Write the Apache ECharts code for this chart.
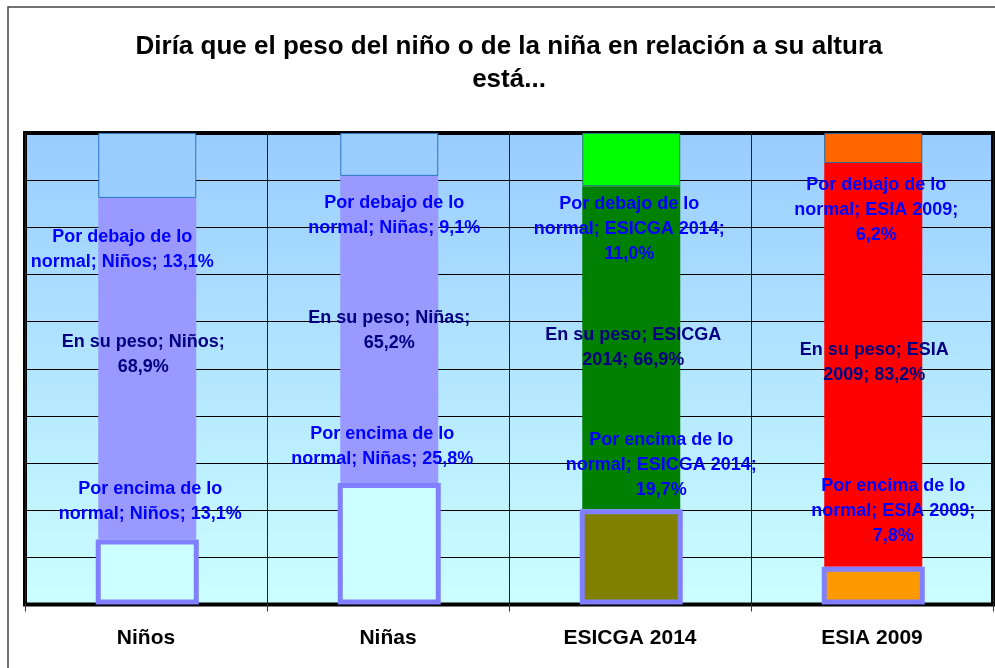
<!DOCTYPE html>
<html><head><meta charset="utf-8">
<script src="https://cdn.jsdelivr.net/npm/echarts@6/dist/echarts.min.js"></script>
<style>html,body{margin:0;padding:0;background:#fff}#c{width:995px;height:668px}</style>
</head><body><div id="c"></div>
<script>
// ---- data ----
const categories = ['Niños', 'Niñas', 'ESICGA 2014', 'ESIA 2009'];
const seriesNames = ['Por encima de lo normal', 'En su peso', 'Por debajo de lo normal'];
const encima = [13.1, 25.8, 19.7, 7.8];
const peso = [68.9, 65.2, 66.9, 83.2];
const debajo = [13.1, 9.1, 11.0, 6.2];
const titleText = 'Diría que el peso del niño o de la niña en relación a su altura\nestá...';

// ---- styles / layout ----
const fills = [
  ['#CCFFFF', '#CCFFFF', '#808000', '#FF9900'],
  ['#9999FF', '#9999FF', '#008000', '#FF0000'],
  ['#99CCFF', '#99CCFF', '#00FF00', '#FF6600']
];
const topBorders = ['#2E74C0', '#2E74C0', '#1E7F6A', '#2F5F8F'];
const labelOffsets = [
  [[3, -70], [-7, -97], [30, -92], [20, -75]],
  [[-4, -14], [0, 1], [2, 0], [1, -2]],
  [[-25, 84], [5, 61], [-2, 69], [3, 62]]
];
const wordsPerLine = [
  [[4, 3], [4, 3], [4, 3, 1], [4, 3, 1]],
  [[4, 1], [4, 1], [4, 2], [4, 2]],
  [[4, 3], [4, 3], [4, 3, 1], [4, 3, 1]]
];

const raw = [encima, peso, debajo];
const totals = categories.map((c, i) => encima[i] + peso[i] + debajo[i]);
const share = (vals) => vals.map((v, i) => v / totals[i] * 100);

function makeLabel(s, i) {
  const v = raw[s][i].toFixed(1).replace('.', ',') + '%';
  const words = (seriesNames[s] + '; ' + categories[i] + '; ' + v).split(' ');
  const lines = [];
  let k = 0;
  wordsPerLine[s][i].forEach(n => { lines.push(words.slice(k, k + n).join(' ')); k += n; });
  return lines.join('\n');
}

const GAP = '-97.57%';
function labelCfg(s) {
  return {
    show: true,
    position: 'inside',
    color: s === 1 ? '#000080' : '#0000FF',
    fontSize: 18,
    fontWeight: 'bold',
    fontFamily: 'Arial',
    lineHeight: 25,
    align: 'center',
    textBorderWidth: 0,
    textBorderColor: 'transparent',
    formatter: p => makeLabel(s, p.dataIndex)
  };
}
function dataFor(s) {
  return share(raw[s]).map((v, i) => ({
    value: v,
    itemStyle: {
      color: fills[s][i],
      borderColor: s === 0 ? '#8080FF' : (s === 2 ? topBorders[i] : undefined),
      borderWidth: s === 0 ? 5 : (s === 2 ? 1 : 0)
    },
    label: { offset: labelOffsets[s][i] }
  }));
}

const series = [
  { name: seriesNames[0], type: 'bar', stack: 'A', barWidth: 103, barGap: GAP, z: 3,
    data: dataFor(0), label: labelCfg(0), emphasis: { disabled: true } },
  { name: 'base', type: 'bar', stack: 'B', barWidth: 98, barGap: GAP, silent: true,
    data: share(encima), itemStyle: { color: 'rgba(0,0,0,0)' }, label: { show: false }, emphasis: { disabled: true } },
  { name: seriesNames[1], type: 'bar', stack: 'B', barWidth: 98, barGap: GAP,
    data: dataFor(1), label: labelCfg(1), emphasis: { disabled: true } },
  { name: seriesNames[2], type: 'bar', stack: 'B', barWidth: 98, barGap: GAP,
    data: dataFor(2), label: labelCfg(2), emphasis: { disabled: true } }
];

const chart = echarts.init(document.getElementById('c'), null, { renderer: 'canvas' });
chart.setOption({
  animation: false,
  backgroundColor: '#fff',
  graphic: [
    { type: 'rect', shape: { x: 8, y: 7, width: 1000, height: 700 }, style: { fill: 'none', stroke: '#444', lineWidth: 1.5 }, z: -10 },
    { type: 'text', x: 509, y: 63, style: { text: titleText, font: 'bold 26px Arial', fill: '#000', textAlign: 'center', textVerticalAlign: 'middle', lineHeight: 33 } }
  ],
  grid: {
    left: 25, right: 2, top: 133, bottom: 63.5,
    show: true,
    borderColor: '#000',
    borderWidth: 4,
    backgroundColor: { type: 'linear', x: 0, y: 0, x2: 0, y2: 1, colorStops: [{ offset: 0, color: '#99CCFF' }, { offset: 1, color: '#CCFFFF' }] }
  },
  xAxis: {
    type: 'category',
    data: categories,
    axisLine: { show: false },
    axisTick: { show: true, length: 7, lineStyle: { color: '#333' }, interval: 0 },
    splitLine: { show: true, interval: 0, lineStyle: { color: '#222', width: 1 } },
    axisLabel: { fontSize: 21, fontWeight: 'bold', fontFamily: 'Arial', color: '#000', margin: 23, interval: 0 }
  },
  yAxis: {
    type: 'value', min: 0, max: 100, interval: 10,
    axisLabel: { show: false }, axisLine: { show: false }, axisTick: { show: false },
    splitLine: { show: true, lineStyle: { color: '#000', width: 1 } }
  },
  series: series
});
</script>
</body></html>
